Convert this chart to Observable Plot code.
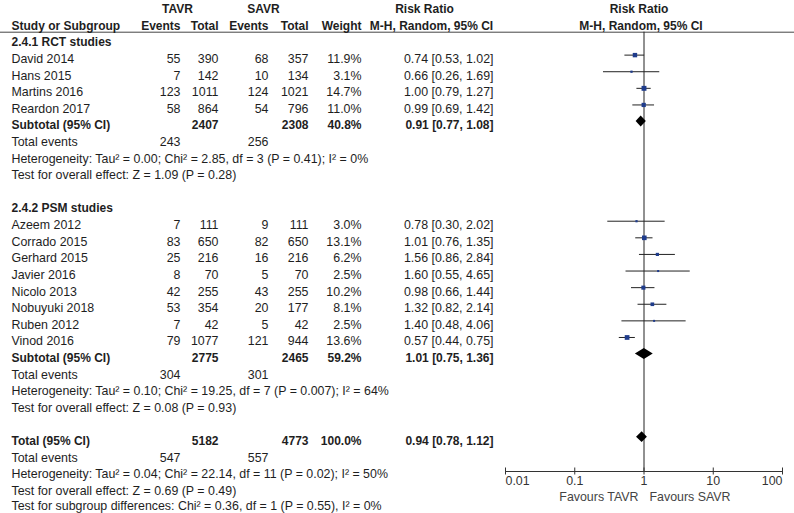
<!DOCTYPE html>
<html>
<head>
<meta charset="utf-8">
<script src="https://cdn.jsdelivr.net/npm/d3@7"></script>
<script src="https://cdn.jsdelivr.net/npm/@observablehq/plot@0.6"></script>
<style>
  html, body { margin: 0; padding: 0; background: #fff; }
  #chart svg { display: block; }
</style>
</head>
<body>
<div id="chart"></div>
<script>
// ---------------- data ----------------
const studies = ["David 2014", "Hans 2015", "Martins 2016", "Reardon 2017",
  "Azeem 2012", "Corrado 2015", "Gerhard 2015", "Javier 2016", "Nicolo 2013",
  "Nobuyuki 2018", "Ruben 2012", "Vinod 2016"];
const studyGroup = [0, 0, 0, 0, 1, 1, 1, 1, 1, 1, 1, 1];
const tavrEvents = [55, 7, 123, 58, 7, 83, 25, 8, 42, 53, 7, 79];
const tavrTotal = [390, 142, 1011, 864, 111, 650, 216, 70, 255, 354, 42, 1077];
const savrEvents = [68, 10, 124, 54, 9, 82, 16, 5, 43, 20, 5, 121];
const savrTotal = [357, 134, 1021, 796, 111, 650, 216, 70, 255, 177, 42, 944];
const weights = [11.9, 3.1, 14.7, 11.0, 3.0, 13.1, 6.2, 2.5, 10.2, 8.1, 2.5, 13.6];
const riskRatio = [0.74, 0.66, 1.00, 0.99, 0.78, 1.01, 1.56, 1.60, 0.98, 1.32, 1.40, 0.57];
const ciLow = [0.53, 0.26, 0.79, 0.69, 0.30, 0.76, 0.86, 0.55, 0.66, 0.82, 0.48, 0.44];
const ciHigh = [1.02, 1.69, 1.27, 1.42, 2.02, 1.35, 2.84, 4.65, 1.44, 2.14, 4.06, 0.75];

const groupNames = ["2.4.1 RCT studies", "2.4.2 PSM studies"];
const groupTavrTotal = [2407, 2775];
const groupSavrTotal = [2308, 2465];
const groupWeight = [40.8, 59.2];
const groupRR = [0.91, 1.01];
const groupLow = [0.77, 0.75];
const groupHigh = [1.08, 1.36];
const groupTavrEvents = [243, 304];
const groupSavrEvents = [256, 301];
const groupHeterogeneity = [
  "Heterogeneity: Tau² = 0.00; Chi² = 2.85, df = 3 (P = 0.41); I² = 0%",
  "Heterogeneity: Tau² = 0.10; Chi² = 19.25, df = 7 (P = 0.007); I² = 64%"];
const groupOverallEffect = [
  "Test for overall effect: Z = 1.09 (P = 0.28)",
  "Test for overall effect: Z = 0.08 (P = 0.93)"];

const totalLabel = "Total (95% CI)";
const totalTavr = 5182, totalSavr = 4773, totalWeight = 100.0;
const totalRR = 0.94, totalLow = 0.78, totalHigh = 1.12;
const totalTavrEvents = 547, totalSavrEvents = 557;
const totalNotes = [
  "Heterogeneity: Tau² = 0.04; Chi² = 22.14, df = 11 (P = 0.02); I² = 50%",
  "Test for overall effect: Z = 0.69 (P = 0.49)",
  "Test for subgroup differences: Chi² = 0.36, df = 1 (P = 0.55), I² = 0%"];

const armHeaders = ["TAVR", "SAVR"];
const columnHeaders = ["Study or Subgroup", "Events", "Total", "Events", "Total", "Weight"];
const effectTitle = "Risk Ratio";
const effectMethod = "M-H, Random, 95% CI";
const xTicks = [0.01, 0.1, 1, 10, 100];
const xTickLabels = ["0.01", "0.1", "1", "10", "100"];
const favourLabels = ["Favours TAVR", "Favours SAVR"];

// ---------------- table rows ----------------
const rows = [];
let r = 0;
for (let g = 0; g < groupNames.length; g++) {
  rows.push({row: r++, kind: "group", label: groupNames[g]});
  studies.forEach((s, i) => {
    if (studyGroup[i] !== g) return;
    rows.push({row: r++, kind: "study", label: s, te: tavrEvents[i], tt: tavrTotal[i],
      se: savrEvents[i], st: savrTotal[i], w: weights[i], rr: riskRatio[i], lo: ciLow[i], hi: ciHigh[i]});
  });
  rows.push({row: r++, kind: "subtotal", label: "Subtotal (95% CI)", tt: groupTavrTotal[g], st: groupSavrTotal[g],
    w: groupWeight[g], rr: groupRR[g], lo: groupLow[g], hi: groupHigh[g]});
  rows.push({row: r++, kind: "events", label: "Total events", te: groupTavrEvents[g], se: groupSavrEvents[g]});
  rows.push({row: r++, kind: "note", label: groupHeterogeneity[g]});
  rows.push({row: r++, kind: "note", label: groupOverallEffect[g]});
  r++;
}
rows.push({row: r++, kind: "subtotal", label: totalLabel, tt: totalTavr, st: totalSavr,
  w: totalWeight, rr: totalRR, lo: totalLow, hi: totalHigh});
rows.push({row: r++, kind: "events", label: "Total events", te: totalTavrEvents, se: totalSavrEvents});
totalNotes.forEach((n, i) => rows.push({row: r++, kind: i === totalNotes.length - 1 ? "last" : "note", label: n}));

const isBold = d => d.kind === "group" || d.kind === "subtotal";
const studyRows = rows.filter(d => d.kind === "study");
const summaryRows = rows.filter(d => d.kind === "subtotal");
const num = v => v == null ? null : String(v);
const fmtRR = d => d.rr == null ? null : `${d.rr.toFixed(2)} [${d.lo.toFixed(2)}, ${d.hi.toFixed(2)}]`;
const fmtW = d => d.w == null ? null : d.w.toFixed(1) + "%";

// diamond outline points for summary rows
const DIAMOND_HALF = 0.33;
const diamondPts = summaryRows.flatMap((d, k) => [
  {id: k, x: d.lo, y1: d.row, y2: d.row},
  {id: k, x: d.rr, y1: d.row - DIAMOND_HALF, y2: d.row + DIAMOND_HALF},
  {id: k, x: d.hi, y1: d.row, y2: d.row}
]);

// ---------------- layout ----------------
const W = 794, H = 513;
const ROW0 = 42, ROWH = 16.61;
const HEADER_LINE_ROW = -0.62;
const AXIS_ROW = (471 - ROW0) / ROWH;
const FS = 12.4, FSB = 12.0;
const INK = "#1e1e1e";
const FONT = "Arial, 'Liberation Sans', Helvetica, sans-serif";
const MARK_DY = -4;
const col = {label: 11, te: 180, tt: 218, se: 268, st: 308, w: 361, rr: 493};
const colKeys = [["te", d => num(d.te)], ["tt", d => num(d.tt)], ["se", d => num(d.se)], ["st", d => num(d.st)], ["w", fmtW], ["rr", fmtRR]];

function txt(data, opts) {
  const bold = opts.fontWeight === "bold";
  return Plot.text(data, {frameAnchor: "left", fontSize: bold ? FSB : FS, fill: INK, lineAnchor: "middle", ...opts});
}

const marks = [];
// header line and reference line
marks.push(Plot.ruleY([HEADER_LINE_ROW], {stroke: "#444", strokeWidth: 1}));
marks.push(Plot.ruleX([1], {stroke: "#222", strokeWidth: 1}));

// header texts
marks.push(txt([armHeaders[0]], {y: () => -2, text: d => d, dx: 177, textAnchor: "middle", fontWeight: "bold"}));
marks.push(txt([armHeaders[1]], {y: () => -2, text: d => d, dx: 263, textAnchor: "middle", fontWeight: "bold"}));
marks.push(txt([effectTitle], {y: () => -2, text: d => d, dx: 424, textAnchor: "middle", fontWeight: "bold"}));
marks.push(txt([effectMethod], {y: () => -1, text: d => d, dx: 431, textAnchor: "middle", fontWeight: "bold"}));
marks.push(Plot.text([effectTitle], {x: () => 1, y: () => -2, text: d => d, dx: -5, textAnchor: "middle", fontWeight: "bold", fontSize: FSB, fill: INK}));
marks.push(Plot.text([effectMethod], {x: () => 1, y: () => -1, text: d => d, dx: -3, textAnchor: "middle", fontWeight: "bold", fontSize: FSB, fill: INK}));
marks.push(txt([columnHeaders[0]], {y: () => -1, text: d => d, dx: col.label, textAnchor: "start", fontWeight: "bold"}));
const hdrCols = [col.te, col.tt, col.se, col.st, col.w];
columnHeaders.slice(1).forEach((h, i) => {
  marks.push(txt([h], {y: () => -1, text: d => d, dx: hdrCols[i], textAnchor: "end", fontWeight: "bold"}));
});

// label column
marks.push(txt(rows.filter(isBold), {y: "row", text: "label", dx: col.label, textAnchor: "start", fontWeight: "bold"}));
marks.push(txt(rows.filter(d => !isBold(d) && d.kind !== "last"), {y: "row", text: "label", dx: col.label, textAnchor: "start"}));
// last footnote nudged up slightly so it is not cut at the bottom edge
marks.push(txt(rows.filter(d => d.kind === "last"), {y: "row", text: "label", dx: col.label, dy: -2, textAnchor: "start"}));

// numeric columns
for (const [key, acc] of colKeys) {
  const has = d => acc(d) != null;
  marks.push(txt(rows.filter(d => isBold(d) && has(d)), {y: "row", text: acc, dx: col[key], textAnchor: "end", fontWeight: "bold"}));
  marks.push(txt(rows.filter(d => !isBold(d) && has(d)), {y: "row", text: acc, dx: col[key], textAnchor: "end"}));
}

// forest marks
marks.push(Plot.ruleY(studyRows, {y: "row", x1: "lo", x2: "hi", stroke: "#222", strokeWidth: 1, dy: MARK_DY}));
marks.push(Plot.dot(studyRows, {x: "rr", y: "row", r: "w", symbol: "square", fill: "#1f3c8c", dy: MARK_DY}));
marks.push(Plot.areaY(diamondPts, {x: "x", y1: "y1", y2: "y2", z: "id", fill: "#000", curve: "linear", dy: MARK_DY}));

// x axis
marks.push(Plot.ruleY([AXIS_ROW], {x1: xTicks[0], x2: xTicks[xTicks.length - 1], stroke: "#333"}));
marks.push(Plot.axisX({ticks: xTicks, tickSize: 7, dy: -3.5, tickFormat: () => "", stroke: "#333", label: null}));
const tickIdx = xTicks.map((t, i) => i);
const tickText = (filter, anchor) => Plot.text(tickIdx.filter(filter), {
  x: i => xTicks[i], text: i => xTickLabels[i], frameAnchor: "bottom", dy: 13.5,
  textAnchor: anchor, fontSize: 12.4, fill: "#333"});
marks.push(tickText(i => i === 0, "start"));
marks.push(tickText(i => i > 0 && i < xTicks.length - 1, "middle"));
marks.push(tickText(i => i === xTicks.length - 1, "end"));
marks.push(Plot.text([favourLabels[0]], {x: () => 1, text: d => d, frameAnchor: "bottom", dy: 29, dx: -5.5, textAnchor: "end", fontSize: FS, fill: "#444"}));
marks.push(Plot.text([favourLabels[1]], {x: () => 1, text: d => d, frameAnchor: "bottom", dy: 29, dx: 5.5, textAnchor: "start", fontSize: FS, fill: "#444"}));

const chart = Plot.plot({
  width: W,
  height: H,
  marginLeft: 0,
  marginRight: 0,
  marginTop: 31.7,
  marginBottom: H - 471,
  style: {fontFamily: FONT, background: "#fff", color: INK},
  x: {type: "log", domain: [xTicks[0], xTicks[xTicks.length - 1]], range: [505, 782], axis: null},
  y: {type: "linear", domain: [0, 28], range: [ROW0, ROW0 + 28 * ROWH], axis: null},
  r: {type: "sqrt", domain: [0, 15], range: [0, 2.8]},
  marks
});
document.getElementById("chart").appendChild(chart);
</script>
</body>
</html>
